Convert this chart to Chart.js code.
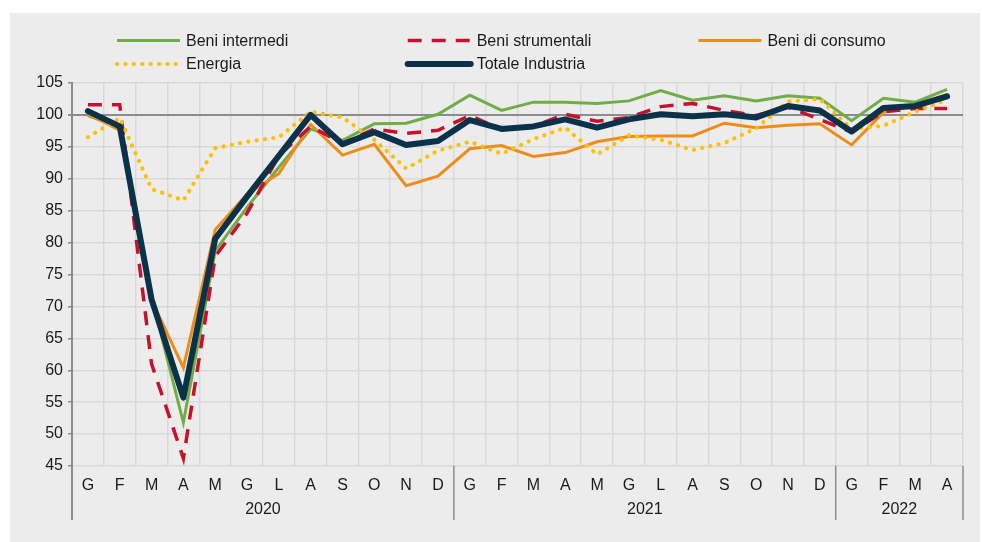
<!DOCTYPE html>
<html>
<head>
<meta charset="utf-8">
<script src="https://cdn.jsdelivr.net/npm/chart.js@4.4.1/dist/chart.umd.min.js"></script>
<style>
  html, body { margin: 0; padding: 0; background: #ffffff; }
  #wrap { width: 982px; height: 542px; position: relative; }
</style>
</head>
<body>
<div id="wrap"><canvas id="prodChart" width="982" height="542"></canvas></div>
<script>
// Mesi (gen 2020 - apr 2022) e anni
const mesi = ['G','F','M','A','M','G','L','A','S','O','N','D',
              'G','F','M','A','M','G','L','A','S','O','N','D',
              'G','F','M','A'];
const anni = ['2020', '2021', '2022'];
const mesiPerAnno = [12, 12, 4];

// Serie (indici)
const beniIntermedi = [99.9, 98.1, 71.5, 51.8, 78.7, 85.5, 91.8, 97.8, 96.0, 98.6, 98.7, 100.1,
                       103.1, 100.7, 102.0, 102.0, 101.8, 102.2, 103.8, 102.3, 103.0, 102.2, 103.0, 102.6,
                       99.1, 102.6, 102.0, 104.0];
const beniStrumentali = [101.6, 101.6, 61.0, 46.2, 77.8, 84.6, 93.6, 98.2, 95.5, 97.8, 97.1, 97.6,
                         99.9, 97.7, 98.2, 100.1, 99.0, 99.6, 101.3, 101.8, 100.7, 99.9, 101.2, 99.3,
                         97.3, 100.5, 101.0, 101.0];
const beniConsumo = [100.1, 97.6, 71.0, 60.4, 82.0, 87.6, 90.8, 98.5, 93.7, 95.4, 88.9, 90.4,
                     94.7, 95.2, 93.5, 94.1, 95.8, 96.6, 96.7, 96.7, 98.7, 98.0, 98.4, 98.6,
                     95.3, 100.4, 101.5, 103.2];
const energia = [96.5, 99.5, 88.4, 86.6, 94.8, 95.8, 96.5, 100.5, 99.6, 96.1, 91.6, 94.4,
                 95.8, 93.9, 96.2, 98.0, 93.8, 96.8, 96.1, 94.5, 95.6, 97.9, 102.1, 102.5,
                 97.8, 98.3, 100.5, 102.4];
const totaleIndustria = [100.6, 98.2, 71.1, 55.7, 80.6, 87.2, 93.6, 100.0, 95.4, 97.3, 95.3, 95.9,
                         99.2, 97.8, 98.2, 99.3, 98.0, 99.3, 100.1, 99.8, 100.1, 99.6, 101.4, 100.7,
                         97.4, 101.1, 101.4, 102.9];

const FONT = '"Liberation Sans", Arial, sans-serif';
const TESTO = '#1a1a1a';
const GRIGIO = '#8c8c8c';

document.addEventListener('DOMContentLoaded', function() {
    // sfondo bianco + riquadro grigio
    const sfondo = {
        id: 'sfondo',
        beforeDraw(chart) {
            const c = chart.ctx;
            c.save();
            c.fillStyle = '#ffffff';
            c.fillRect(0, 0, chart.width, chart.height);
            c.fillStyle = '#ececec';
            c.fillRect(10, 13, chart.width - 12, chart.height - 13);
            c.restore();
        }
    };

    // legenda a colonne, come nell'originale
    const legenda = {
        id: 'legenda',
        afterDraw(chart) {
            const c = chart.ctx;
            const ordine = [0, 1, 2, 3, 4];
            c.save();
            c.font = '16px ' + FONT;
            c.textBaseline = 'middle';
            ordine.forEach((i, k) => {
                const ds = chart.data.datasets[i];
                const col = k % 3, riga = Math.floor(k / 3);
                const x = 117 + col * 290.7;
                const y = 40.5 + riga * 23.5;
                c.beginPath();
                c.strokeStyle = ds.borderColor;
                c.lineWidth = ds.borderWidth;
                c.lineCap = ds.borderCapStyle || 'butt';
                c.setLineDash(ds.borderDash || []);
                c.moveTo(x, y);
                c.lineTo(x + 63, y);
                c.stroke();
                c.setLineDash([]);
                c.fillStyle = TESTO;
                c.fillText(ds.label, x + 69, y + 1);
            });
            c.restore();
        }
    };

    // anni sotto i mesi e linee di separazione
    const anniAsse = {
        id: 'anniAsse',
        afterDraw(chart) {
            const c = chart.ctx;
            const sx = chart.scales.x;
            const area = chart.chartArea;
            const passo = sx.getPixelForValue(1) - sx.getPixelForValue(0);
            const bordo = i => sx.getPixelForValue(i) - passo / 2;
            c.save();
            c.strokeStyle = GRIGIO;
            c.fillStyle = TESTO;
            c.font = '16px ' + FONT;
            c.textAlign = 'center';
            c.textBaseline = 'middle';
            let inizio = 0;
            anni.forEach((anno, j) => {
                const fine = inizio + mesiPerAnno[j];
                const x0 = bordo(inizio), x1 = bordo(fine);
                c.fillText(anno, (x0 + x1) / 2, 509.5);
                c.beginPath();
                c.lineWidth = j === 0 ? 2 : 1.5;
                c.moveTo(x0, area.bottom);
                c.lineTo(x0, 520);
                c.stroke();
                if (j === anni.length - 1) {
                    c.beginPath();
                    c.lineWidth = 1.5;
                    c.moveTo(x1, area.bottom);
                    c.lineTo(x1, 520);
                    c.stroke();
                }
                inizio = fine;
            });
            c.restore();
        }
    };

    const ctx = document.getElementById('prodChart').getContext('2d');
    const prodChart = new Chart(ctx, {
        type: 'line',
        data: {
            labels: mesi,
            datasets: [{
                label: 'Beni intermedi',
                data: beniIntermedi,
                borderColor: '#70ad47',
                borderWidth: 3,
                pointRadius: 0,
                tension: 0,
                order: 4
            }, {
                label: 'Beni strumentali',
                data: beniStrumentali,
                borderColor: '#c8102e',
                borderWidth: 3.5,
                borderDash: [14, 10],
                pointRadius: 0,
                tension: 0,
                order: 2
            }, {
                label: 'Beni di consumo',
                data: beniConsumo,
                borderColor: '#ee8c1a',
                borderWidth: 3,
                pointRadius: 0,
                tension: 0,
                order: 3
            }, {
                label: 'Energia',
                data: energia,
                borderColor: '#ffc000',
                borderWidth: 4.2,
                borderDash: [0.1, 8.3],
                borderCapStyle: 'round',
                pointRadius: 0,
                tension: 0,
                order: 1
            }, {
                label: 'Totale Industria',
                data: totaleIndustria,
                borderColor: '#0b3249',
                borderWidth: 6,
                borderCapStyle: 'round',
                borderJoinStyle: 'round',
                pointRadius: 0,
                tension: 0,
                order: 0
            }]
        },
        options: {
            responsive: false,
            animation: false,
            layout: {
                padding: { left: 10, right: 19, top: 83, bottom: 0 }
            },
            scales: {
                x: {
                    offset: true,
                    grid: {
                        offset: true,
                        color: '#d9d9d9',
                        lineWidth: 1.5,
                        drawTicks: false
                    },
                    border: { display: false },
                    ticks: {
                        color: TESTO,
                        font: { family: FONT, size: 16 },
                        padding: 10,
                        autoSkip: false,
                        maxRotation: 0
                    },
                    afterFit: function(s) { s.height = 76; }
                },
                y: {
                    min: 45,
                    max: 105,
                    grid: {
                        color: c => c.tick && c.tick.value === 100 ? GRIGIO : '#d9d9d9',
                        lineWidth: c => c.tick && c.tick.value === 100 ? 2 : 1.5,
                        tickColor: GRIGIO,
                        tickLength: 4
                    },
                    border: { color: GRIGIO, width: 2 },
                    ticks: {
                        stepSize: 5,
                        color: TESTO,
                        font: { family: FONT, size: 16 },
                        padding: 5
                    },
                    afterFit: function(s) { s.width = 62; }
                }
            },
            plugins: {
                legend: { display: false },
                tooltip: { enabled: false }
            }
        },
        plugins: [sfondo, legenda, anniAsse]
    });
});
</script>
</body>
</html>
